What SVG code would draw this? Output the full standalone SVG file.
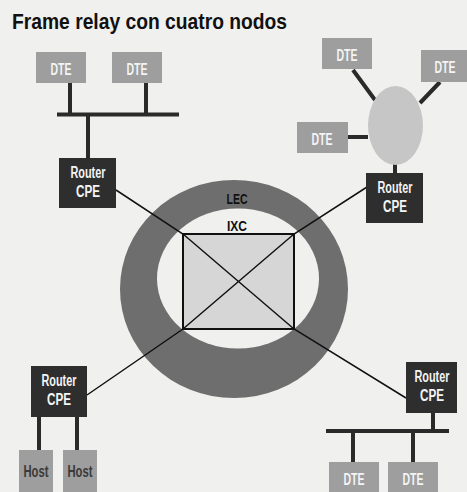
<svg xmlns="http://www.w3.org/2000/svg" width="467" height="492" viewBox="0 0 467 492">
<style>
.dte{fill:#9e9e9e}
.rtr{fill:#2e2e2e}
.lt{font-family:"Liberation Sans",Arial,sans-serif;font-weight:bold;fill:#f4f4f4;text-anchor:middle}
.bk{font-family:"Liberation Sans",Arial,sans-serif;font-weight:bold;fill:#111;text-anchor:middle}
.hs{font-family:"Liberation Sans",Arial,sans-serif;font-weight:bold;fill:#3a3a3a;text-anchor:middle}
.thick{stroke:#2a2a2a;stroke-width:4;fill:none}
.thin{stroke:#111;stroke-width:1.5;fill:none}
</style>
<rect width="467" height="492" fill="#f0f0ee"/>
<text x="12" y="29" font-family="'Liberation Sans',Arial,sans-serif" font-weight="bold" font-size="22" fill="#111" textLength="275" lengthAdjust="spacingAndGlyphs">Frame relay con cuatro nodos</text>

<g id="network">
<ellipse cx="234" cy="289" rx="114" ry="109" fill="#6e6e6e"/>
<ellipse cx="238" cy="278.5" rx="81" ry="70" fill="#f0f0ee"/>
<rect x="183" y="234" width="111" height="95" fill="#d6d6d6" stroke="#111" stroke-width="2"/>
<text class="bk" x="237" y="204" font-size="15" textLength="21" lengthAdjust="spacingAndGlyphs">LEC</text>
<text class="bk" x="237" y="231" font-size="15" textLength="20" lengthAdjust="spacingAndGlyphs">IXC</text>
</g>

<g id="connectors">
<polyline class="thin" points="116,190 183,234 294,329 406,398"/>
<polyline class="thin" points="87,395 183,329 294,234 367,187"/>
<path class="thick" d="M57,114.5H179M70,83V114.5M146,83V114.5M88,114.5V158"/>
<path class="thick" d="M353,70L375,100M440,82L420,103M348,137H368M395,164V173"/>
<path class="thick" d="M326,431H449M433,413V431M353,431V462M413,431V462"/>
<path class="thick" d="M39,417V450M77,417V450"/>
</g>

<g id="tl-dte1"><rect class="dte" x="36" y="52" width="50" height="31"/><text class="lt" x="61" y="75" font-size="16" textLength="21" lengthAdjust="spacingAndGlyphs">DTE</text></g>
<g id="tl-dte2"><rect class="dte" x="112" y="52" width="50" height="31"/><text class="lt" x="137" y="75" font-size="16" textLength="21" lengthAdjust="spacingAndGlyphs">DTE</text></g>
<g id="tl-router"><rect class="rtr" x="59" y="158" width="57" height="50"/><text class="lt" x="88" y="178" font-size="16" textLength="35" lengthAdjust="spacingAndGlyphs">Router</text><text class="lt" x="88" y="197" font-size="16" textLength="24" lengthAdjust="spacingAndGlyphs">CPE</text></g>

<g id="tr-hub"><ellipse cx="395.5" cy="125.5" rx="27.5" ry="39.5" fill="#c6c6c6"/></g>
<g id="tr-dte1"><rect class="dte" x="322" y="38" width="50" height="31"/><text class="lt" x="347" y="61" font-size="16" textLength="21" lengthAdjust="spacingAndGlyphs">DTE</text></g>
<g id="tr-dte2"><rect class="dte" x="421" y="50" width="47" height="32"/><text class="lt" x="445" y="73" font-size="16" textLength="21" lengthAdjust="spacingAndGlyphs">DTE</text></g>
<g id="tr-dte3"><rect class="dte" x="297" y="122" width="51" height="31"/><text class="lt" x="322" y="145" font-size="16" textLength="21" lengthAdjust="spacingAndGlyphs">DTE</text></g>
<g id="tr-router"><rect class="rtr" x="366" y="173" width="57" height="50"/><text class="lt" x="395" y="193" font-size="16" textLength="35" lengthAdjust="spacingAndGlyphs">Router</text><text class="lt" x="395" y="212" font-size="16" textLength="24" lengthAdjust="spacingAndGlyphs">CPE</text></g>

<g id="bl-router"><rect class="rtr" x="31" y="366" width="56" height="51"/><text class="lt" x="59" y="386" font-size="16" textLength="35" lengthAdjust="spacingAndGlyphs">Router</text><text class="lt" x="59" y="405" font-size="16" textLength="24" lengthAdjust="spacingAndGlyphs">CPE</text></g>
<g id="bl-host1"><rect class="dte" x="19" y="450" width="34" height="42"/><text class="hs" x="36" y="477" font-size="16" textLength="25" lengthAdjust="spacingAndGlyphs">Host</text></g>
<g id="bl-host2"><rect class="dte" x="63" y="450" width="34" height="42"/><text class="hs" x="80" y="477" font-size="16" textLength="25" lengthAdjust="spacingAndGlyphs">Host</text></g>

<g id="br-router"><rect class="rtr" x="406" y="362" width="51" height="51"/><text class="lt" x="432" y="382" font-size="16" textLength="35" lengthAdjust="spacingAndGlyphs">Router</text><text class="lt" x="432" y="401" font-size="16" textLength="24" lengthAdjust="spacingAndGlyphs">CPE</text></g>
<g id="br-dte1"><rect class="dte" x="329" y="462" width="50" height="30"/><text class="lt" x="354" y="485" font-size="16" textLength="21" lengthAdjust="spacingAndGlyphs">DTE</text></g>
<g id="br-dte2"><rect class="dte" x="388" y="462" width="50" height="30"/><text class="lt" x="413" y="485" font-size="16" textLength="21" lengthAdjust="spacingAndGlyphs">DTE</text></g>
</svg>
